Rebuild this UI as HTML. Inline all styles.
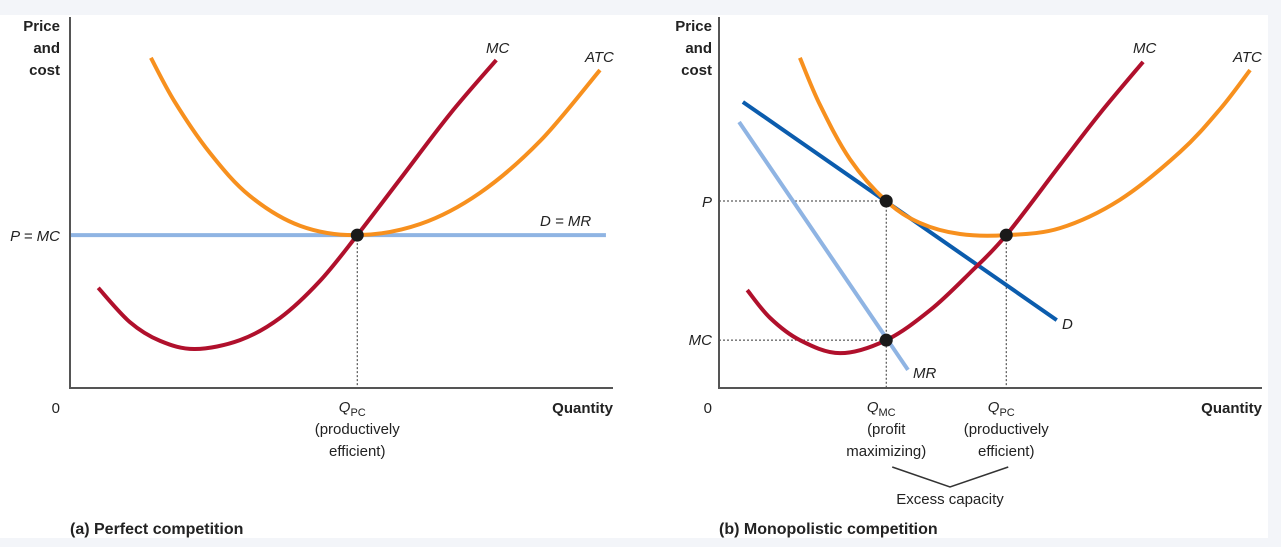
<!DOCTYPE html>
<html><head><meta charset="utf-8"><style>
html,body{margin:0;padding:0;background:#f3f5f9;}
svg{display:block;font-family:"Liberation Sans",Arial,sans-serif;}
.b{font-weight:bold;font-size:15px;fill:#222}
.c{font-weight:bold;font-size:16px;fill:#222}
.t{font-size:15px;fill:#222}
.i{font-style:italic;font-size:15px;fill:#222}
</style></head><body>
<svg id="chart" width="1281" height="547" viewBox="0 0 1281 547">
<rect x="0" y="15" width="1268" height="523" fill="#fff"/>
<g id="pa"></g>
<g id="pb"></g>
</svg>
<script>
// data in units: x quantity 0..100, y price 0..100
const mcA = [[5.2,27],[11.0,17.8],[16.6,12.7],[23,10.5],[31.3,12.9],[38.7,18.9],[46,28.8],[52.9,41.2],[60.8,56.3],[70,73.9],[78.5,88.4]];
const atcA = [[14.9,89],[19.3,77.1],[25.8,63.3],[33.1,51.8],[42.4,43.7],[52.9,41.2],[64.5,44.2],[75.5,52.6],[86.6,66.6],[97.6,85.7]];
const priceA = 41.2;
const qpcA = 52.9;
const mcB = [[5.2,26.4],[9.4,18.9],[14.9,12.9],[22.3,9.4],[30.8,12.9],[38.9,21],[46.2,31],[52.9,41.2],[62.8,60.1],[70.2,74.1],[78.1,87.9]];
const atcB = [[14.9,89],[18.6,76.3],[24.1,61.7],[30.8,50.4],[37,44.5],[44.4,41.5],[52.9,41.2],[62.8,43.1],[73.8,50.7],[84.9,63.6],[92.3,75.2],[97.8,85.7]];
const demandB = [[4.4,77.1],[62.2,18.3]];
const mrB = [[3.7,71.7],[34.8,4.9]];
const qmcB = 30.8, priceB = 50.4, mcValB = 12.9, qpcB = 52.9, atcMinB = 41.2;

const NS='http://www.w3.org/2000/svg';
function el(p,tag,attrs){const e=document.createElementNS(NS,tag);for(const k in attrs)e.setAttribute(k,attrs[k]);p.appendChild(e);return e;}
function path(pts){let d='M'+pts[0][0]+','+pts[0][1];for(let i=0;i<pts.length-1;i++){const p0=pts[Math.max(i-1,0)],p1=pts[i],p2=pts[i+1],p3=pts[Math.min(i+2,pts.length-1)];
d+=' C'+(p1[0]+(p2[0]-p0[0])/6)+','+(p1[1]+(p2[1]-p0[1])/6)+' '+(p2[0]-(p3[0]-p1[0])/6)+','+(p2[1]-(p3[1]-p1[1])/6)+' '+p2[0]+','+p2[1];}return d;}
function txt(g,x,y,s,cls,anchor,name){const t=el(g,'text',{x:x,y:y,class:cls,'text-anchor':anchor||'start'});t.textContent=s;


return t;}
function panel(g,ox){
  const X=u=>ox+5.43*u, Y=v=>388-3.71*v;
  const P=a=>a.map(p=>[X(p[0]),Y(p[1])]);
  return {X,Y,P};
}
function axes(g,ox){
  const a=el(g,'path',{d:`M${ox},17 V388 H${ox+543}`,stroke:'#555','stroke-width':2,fill:'none'});
  
  
}
function curve(g,pts,color,name,w){const c=el(g,'path',{d:path(pts),stroke:color,'stroke-width':w||4,fill:'none'});
  
  }
function dot(g,x,y){const c=el(g,'circle',{cx:x,cy:y,r:6.5,fill:'#1a1a1a'});
  
  }
function dotted(g,d){const l=el(g,'path',{d:d,stroke:'#333','stroke-width':1,'stroke-dasharray':'2,2',fill:'none'});
  
  }
function ylabel(g,x){txt(g,x,31,'Price','b','end','y-axis-title');txt(g,x,53,'and','b','end','y-axis-title');txt(g,x,75,'cost','b','end','y-axis-title');}

// Panel A
(function(){
  const g=document.getElementById('pa'),ox=70,s=panel(g,ox);
  const py=s.Y(priceA),qx=s.X(qpcA);
  dotted(g,`M${qx},${py} V388`);
  const d=el(g,'line',{x1:ox,y1:py,x2:s.X(98.7),y2:py,stroke:'#8fb4e3','stroke-width':4});
  
  
  curve(g,s.P(atcA),'#f7901e','atc-curve');
  curve(g,s.P(mcA),'#b0102c','mc-curve');
  axes(g,ox);
  dot(g,qx,py);
  ylabel(g,60);
  txt(g,60,241,'P = MC','i','end','p-equals-mc-label');
  txt(g,486,53,'MC','i','start','mc-label');
  txt(g,585,62,'ATC','i','start','atc-label');
  txt(g,540,226,'D = MR','i','start','d-mr-label');
  txt(g,60,413,'0','t','end','origin-label');
  txt(g,613,413,'Quantity','b','end','x-axis-title');
  const q=txt(g,qx-5,412,'Q','i','middle','qpc-label');
  const sub=el(q,'tspan',{'font-size':'11','font-style':'normal',dy:'4'});sub.textContent='PC';
  txt(g,qx,434,'(productively','t','middle','qpc-note');
  txt(g,qx,456,'efficient)','t','middle','qpc-note');
  txt(g,70,534,'(a) Perfect competition','c','start','panel-a-caption');
})();

// Panel B
(function(){
  const g=document.getElementById('pb'),ox=719,s=panel(g,ox);
  const qm=s.X(qmcB),pp=s.Y(priceB),mcy=s.Y(mcValB),qp=s.X(qpcB),am=s.Y(atcMinB);
  dotted(g,`M${ox},${pp} H${qm} V388`);
  dotted(g,`M${ox},${mcy} H${qm}`);
  dotted(g,`M${qp},${am} V388`);
  curve(g,s.P(mrB),'#8fb4e3','mr-line');
  curve(g,s.P(demandB),'#0b5cad','demand-line');
  curve(g,s.P(atcB),'#f7901e','atc-curve');
  curve(g,s.P(mcB),'#b0102c','mc-curve');
  axes(g,ox);
  dot(g,qm,pp);dot(g,qm,mcy);dot(g,qp,am);
  ylabel(g,712);
  txt(g,712,207,'P','i','end','price-label');
  txt(g,712,345,'MC','i','end','mc-value-label');
  txt(g,1062,329,'D','i','start','d-label');
  txt(g,913,378,'MR','i','start','mr-label');
  txt(g,1133,53,'MC','i','start','mc-label');
  txt(g,1233,62,'ATC','i','start','atc-label');
  txt(g,712,413,'0','t','end','origin-label');
  txt(g,1262,413,'Quantity','b','end','x-axis-title');
  let q=txt(g,qm-5,412,'Q','i','middle','qmc-label');
  let sub=el(q,'tspan',{'font-size':'11','font-style':'normal',dy:'4'});sub.textContent='MC';
  txt(g,qm,434,'(profit','t','middle','qmc-note');
  txt(g,qm,456,'maximizing)','t','middle','qmc-note');
  q=txt(g,qp-5,412,'Q','i','middle','qpc-label');
  sub=el(q,'tspan',{'font-size':'11','font-style':'normal',dy:'4'});sub.textContent='PC';
  txt(g,qp,434,'(productively','t','middle','qpc-note');
  txt(g,qp,456,'efficient)','t','middle','qpc-note');
  const br=el(g,'path',{d:`M${qm+6},467 L950,487 L${qp+2},467`,stroke:'#333','stroke-width':1.5,fill:'none'});
  
  
  txt(g,950,504,'Excess capacity','t','middle','excess-capacity-label');
  txt(g,719,534,'(b) Monopolistic competition','c','start','panel-b-caption');
})();
</script>
</body></html>
